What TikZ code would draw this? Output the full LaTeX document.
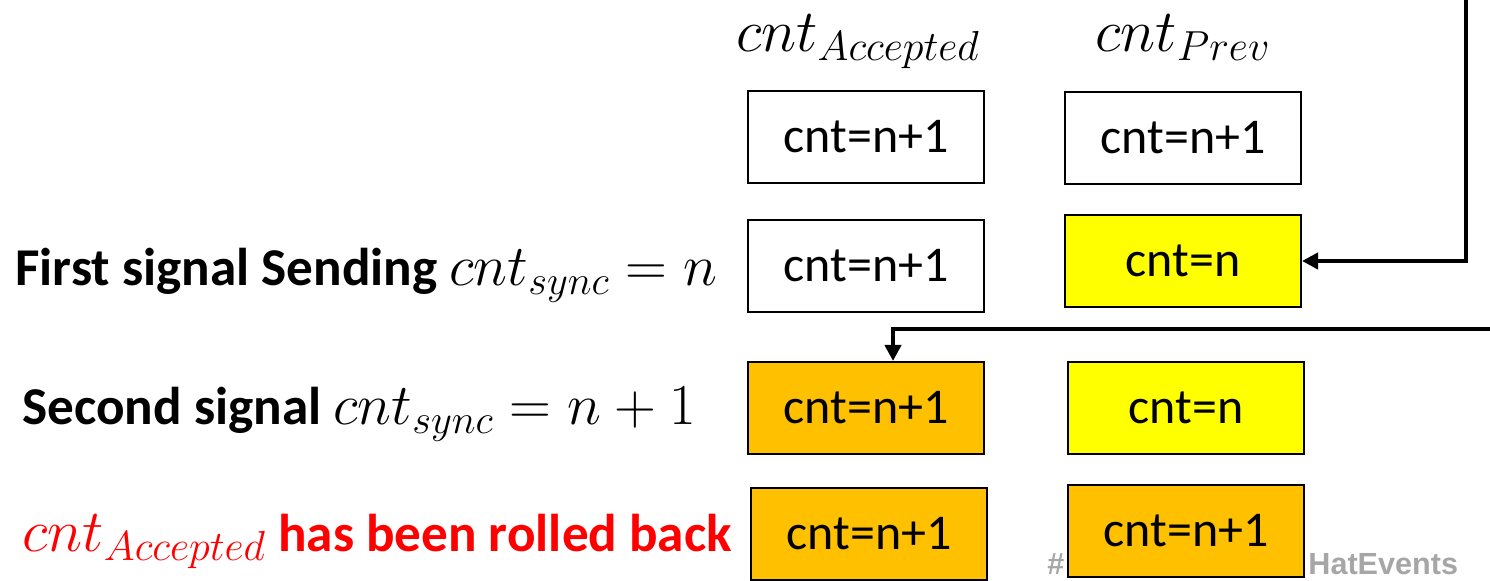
\RequirePackage{fix-cm}
\documentclass[tikz,border=0pt]{standalone}
\usepackage{fontspec}
\setmainfont{Carlito}
\newfontfamily\tagfont{Liberation Sans}
\usetikzlibrary{arrows.meta}

\definecolor{hiyellow}{RGB}{255,255,0}
\definecolor{hiorange}{RGB}{255,192,0}
\definecolor{warnred}{RGB}{255,0,0}
\definecolor{taggray}{RGB}{166,166,166}

\newcommand{\cntmath}[1]{{\fontsize{29}{35}\selectfont$#1$}}

\tikzset{
  cell/.style={draw,line width=1pt,minimum width=118pt,minimum height=46pt,
               inner sep=0pt,font=\fontsize{25}{30}\selectfont},
  yel/.style={cell,fill=hiyellow},
  org/.style={cell,fill=hiorange},
  head/.style={anchor=base,font=\fontsize{30}{36}\selectfont},
  lab/.style={anchor=base west,font=\fontsize{26.6}{32}\selectfont\bfseries,inner sep=0pt},
  tag/.style={anchor=base west,inner sep=0pt,text=taggray,
              font=\tagfont\bfseries\fontsize{15.3}{18}\selectfont},
  flow/.style={line width=2.3pt,-{Triangle[length=8pt,width=8pt]}}
}

\begin{document}
\begin{tikzpicture}[x=0.5pt,y=-0.5pt]
\useasboundingbox (0,0) rectangle (1490,581);

% event tag, partly covered by the last box
\node [tag] (tag1) at (1047,575) {\#};
\node [tag] (tag2) at (1308,575) {HatEvents};

% column heads
\node [head] (hacc)  at (858,52)  {$cnt_{Accepted}$};
\node [head] (hprev) at (1183,52) {$cnt_{Prev}$};

% accepted column
\node [cell] (a1) at (866,137) {cnt=n+1};
\node [cell] (a2) at (866,266) {cnt=n+1};
\node [org]  (a3) at (866,408) {cnt=n+1};
\node [org]  (a4) at (869,534) {cnt=n+1};

% prev column
\node [cell] (p1) at (1183,138) {cnt=n+1};
\node [yel]  (p2) at (1183,261) {cnt=n};
\node [yel]  (p3) at (1186,408) {cnt=n};
\node [org]  (p4) at (1186,531) {cnt=n+1};

% row labels
\node [lab] (l2) at (15,286) {First signal Sending \cntmath{cnt_{sync}=n}};
\node [lab] (l3) at (22,425) {Second signal \cntmath{cnt_{sync}=n+1}};
\node [lab,text=warnred] (l4) at (22,552) {{\fontsize{30}{36}\selectfont$cnt_{Accepted}$} has been rolled back};

% incoming signals
\coordinate (in1) at (1466,0);
\coordinate (in2) at (1490,329);
\draw [flow] (in1) |- (p2.east);
\draw [flow] (in2) -| ([xshift=13.5pt]a3.north);
\end{tikzpicture}
\end{document}
